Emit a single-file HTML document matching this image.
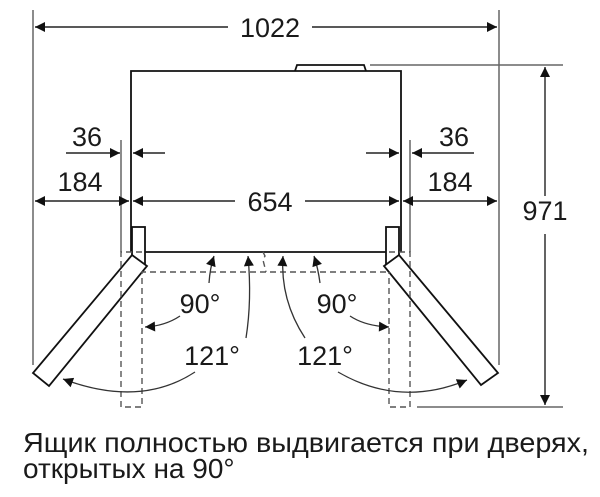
<!DOCTYPE html>
<html><head><meta charset="utf-8"><style>
html,body{margin:0;padding:0;background:#fff}
svg{display:block}
text{font-family:"Liberation Sans",Arial,sans-serif;fill:#1a1a1a}
</style></head><body>
<svg width="600" height="497" viewBox="0 0 600 497" xmlns="http://www.w3.org/2000/svg">
<defs>
<marker id="a" viewBox="0 0 10 10" refX="10" refY="5" markerWidth="12" markerHeight="10" markerUnits="userSpaceOnUse" orient="auto"><path d="M0,0 L10,5 L0,10 z" fill="#111"/></marker>
</defs>
<g stroke="#666" stroke-width="1.5" fill="none">
<line x1="33" y1="10" x2="33" y2="365"/>
<line x1="499" y1="10" x2="499" y2="365"/>
<line x1="370" y1="65" x2="563" y2="65"/>
<line x1="417" y1="407" x2="563" y2="407"/>
<line x1="121" y1="140" x2="121" y2="252"/>
<line x1="410" y1="140" x2="410" y2="252"/>
</g>
<g stroke="#222" stroke-width="1.4" fill="none">
<line x1="228" y1="27" x2="35" y2="27" marker-end="url(#a)"/>
<line x1="312" y1="27" x2="497" y2="27" marker-end="url(#a)"/>
<line x1="545" y1="196" x2="545" y2="67" marker-end="url(#a)"/>
<line x1="545" y1="234" x2="545" y2="405" marker-end="url(#a)"/>
<line x1="66" y1="153" x2="120" y2="153" marker-end="url(#a)"/>
<line x1="165" y1="153" x2="133" y2="153" marker-end="url(#a)"/>
<line x1="366" y1="153" x2="399" y2="153" marker-end="url(#a)"/>
<line x1="474" y1="153" x2="412" y2="153" marker-end="url(#a)"/>
<line x1="80" y1="201" x2="35" y2="201" marker-end="url(#a)"/>
<line x1="80" y1="201" x2="129" y2="201" marker-end="url(#a)"/>
<line x1="235" y1="201" x2="133" y2="201" marker-end="url(#a)"/>
<line x1="305" y1="201" x2="399" y2="201" marker-end="url(#a)"/>
<line x1="450" y1="201" x2="403" y2="201" marker-end="url(#a)"/>
<line x1="450" y1="201" x2="497" y2="201" marker-end="url(#a)"/>
</g>
<g stroke="#111" stroke-width="1.8" fill="#fff">
<path d="M131,252 L131,71 L401,71 L401,252" fill="none"/>
<path d="M295,71 L297,65 L364,65 L366,71" fill="none"/>
<line x1="145" y1="252" x2="386" y2="252"/>
<rect x="132" y="227" width="13" height="37"/>
<rect x="386" y="227" width="13" height="37"/>
<polygon points="132,255 147,266 49,386 33,373"/>
<polygon points="399,255 384,266 481,385 498,373"/>
</g>
<g stroke="#555" stroke-width="1.4" fill="none" stroke-dasharray="6,4">
<path d="M142,252 L121,252 L121,407 L142,407 L142,272 L390,272"/>
<path d="M389,252 L410,252 L410,407 L389,407 L389,272"/>
<path d="M263,252 L265,256 L263,260 L266,272"/>
</g>
<g stroke="#333" stroke-width="1.3" fill="none">
<path d="M209,283 Q210,268 214,256" marker-end="url(#a)"/>
<path d="M180,316 Q165,326 145,327" marker-end="url(#a)"/>
<path d="M246,338 Q252,300 248,256" marker-end="url(#a)"/>
<path d="M195,372 Q140,408 63,379" marker-end="url(#a)"/>
<path d="M320,283 Q318,268 314,256" marker-end="url(#a)"/>
<path d="M350,316 Q365,326 389,327" marker-end="url(#a)"/>
<path d="M305,338 Q280,300 283,256" marker-end="url(#a)"/>
<path d="M338,372 Q400,408 467,380" marker-end="url(#a)"/>
</g>
<g font-size="27" text-anchor="middle">
<text x="270" y="37">1022</text>
<text x="87" y="146">36</text>
<text x="454" y="146">36</text>
<text x="80" y="191">184</text>
<text x="450" y="191">184</text>
<text x="270" y="211">654</text>
<text x="545" y="220">971</text>
<text x="200" y="313">90°</text>
<text x="337" y="313">90°</text>
<text x="212" y="365">121°</text>
<text x="325" y="365">121°</text>
</g>
<text x="23" y="452" font-size="28" textLength="566" lengthAdjust="spacingAndGlyphs">Ящик полностью выдвигается при дверях,</text>
<text x="23" y="478" font-size="28">открытых на 90°</text>
</svg>
</body></html>
